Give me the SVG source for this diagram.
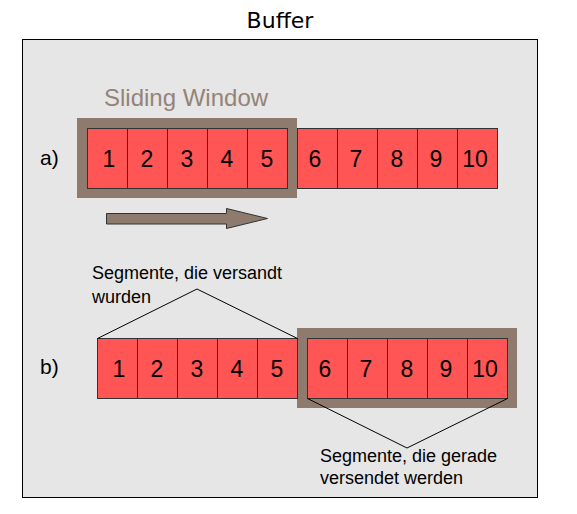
<svg xmlns="http://www.w3.org/2000/svg" width="577" height="514" viewBox="0 0 577 514">
<style>
text{font-family:"Liberation Sans",Arial,sans-serif;fill:#000}
.cell{fill:#ff5555;stroke:#333;stroke-width:1}
.num{font-size:23px;text-anchor:middle}
.frame{fill:#8e7b6e}
.lbl{font-size:21px}
.note{font-size:18px}
.line{fill:none;stroke:#000;stroke-width:1}
</style>
<rect x="0" y="0" width="577" height="514" fill="#fff"/>
<g id="buffer">
<rect x="22.5" y="39.5" width="515" height="458" fill="#e6e6e6" stroke="#000" stroke-width="1"/>
<text x="280" y="28" font-size="22" text-anchor="middle" style="font-family:'DejaVu Sans',sans-serif">Buffer</text>
</g>
<g id="label-a"><text class="lbl" x="40" y="165">a)</text></g>
<g id="label-b"><text class="lbl" x="40" y="374">b)</text></g>
<g id="window-a">
<rect class="frame" x="77" y="118" width="220" height="80"/>
<text x="104" y="106" font-size="24" style="fill:#948378">Sliding Window</text>
</g>
<g id="row-a">
<rect class="cell" x="87.5" y="128.5" width="40" height="60"/><text class="num" x="109" y="167">1</text>
<rect class="cell" x="127.5" y="128.5" width="40" height="60"/><text class="num" x="147" y="167">2</text>
<rect class="cell" x="167.5" y="128.5" width="40" height="60"/><text class="num" x="187" y="167">3</text>
<rect class="cell" x="207.5" y="128.5" width="40" height="60"/><text class="num" x="227" y="167">4</text>
<rect class="cell" x="247.5" y="128.5" width="40" height="60"/><text class="num" x="267" y="167">5</text>
<rect class="cell" x="297.5" y="128.5" width="40" height="60"/><text class="num" x="315" y="167">6</text>
<rect class="cell" x="337.5" y="128.5" width="40" height="60"/><text class="num" x="356" y="167">7</text>
<rect class="cell" x="377.5" y="128.5" width="40" height="60"/><text class="num" x="397" y="167">8</text>
<rect class="cell" x="417.5" y="128.5" width="40" height="60"/><text class="num" x="436" y="167">9</text>
<rect class="cell" x="457.5" y="128.5" width="40" height="60"/><text class="num" x="475" y="167">10</text>
</g>
<g id="arrow">
<path d="M106.5,213.5 H226.5 V208.5 L267.5,218.5 L226.5,228.5 V224 H106.5 Z" fill="#8e7b6e" stroke="#333" stroke-width="1"/>
</g>
<g id="window-b">
<rect class="frame" x="297" y="328" width="220" height="80"/>
</g>
<g id="row-b">
<rect class="cell" x="97.5" y="338.5" width="40" height="60"/><text class="num" x="119" y="377">1</text>
<rect class="cell" x="137.5" y="338.5" width="40" height="60"/><text class="num" x="157" y="377">2</text>
<rect class="cell" x="177.5" y="338.5" width="40" height="60"/><text class="num" x="197" y="377">3</text>
<rect class="cell" x="217.5" y="338.5" width="40" height="60"/><text class="num" x="237" y="377">4</text>
<rect class="cell" x="257.5" y="338.5" width="40" height="60"/><text class="num" x="277" y="377">5</text>
<rect class="cell" x="307.5" y="338.5" width="40" height="60"/><text class="num" x="325" y="377">6</text>
<rect class="cell" x="347.5" y="338.5" width="40" height="60"/><text class="num" x="366" y="377">7</text>
<rect class="cell" x="387.5" y="338.5" width="40" height="60"/><text class="num" x="407" y="377">8</text>
<rect class="cell" x="427.5" y="338.5" width="40" height="60"/><text class="num" x="446" y="377">9</text>
<rect class="cell" x="467.5" y="338.5" width="40" height="60"/><text class="num" x="485" y="377">10</text>
</g>
<g id="connectors">
<polyline class="line" points="97.5,338.5 197,289 297.5,338.5"/>
<polyline class="line" points="307.5,398.5 407,448 507.5,398.5"/>
</g>
<g id="note-sent">
<text class="note" x="92" y="279">Segmente, die versandt</text>
<text class="note" x="92" y="303">wurden</text>
</g>
<g id="note-sending">
<text class="note" x="320" y="462">Segmente, die gerade</text>
<text class="note" x="320" y="484">versendet werden</text>
</g>
</svg>
